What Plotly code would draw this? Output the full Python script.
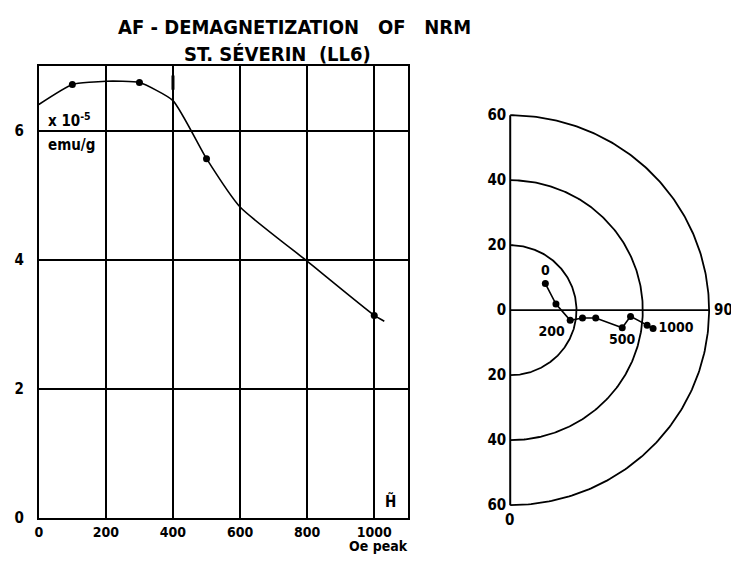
import numpy as np
import plotly.graph_objects as go

# ---- left panel: AF demagnetization curve ----
field_oe = [0, 100, 200, 300, 400, 500, 600, 800, 1000, 1030]
nrm_e5 = [6.41, 6.72, 6.77, 6.75, 6.47, 5.57, 4.82, 3.98, 3.14, 3.05]
marker_oe = [100, 300, 500, 1000]
marker_nrm = [6.72, 6.75, 5.57, 3.14]
tick_mark_oe = [400, 400]
tick_mark_nrm = [6.64, 6.86]
x_ticks = [0, 200, 400, 600, 800, 1000]
y_ticks = [0, 2, 4, 6]

# ---- right panel: direction diagram ----
ring_radii = [20, 40, 60]
path_x = [10.6, 13.8, 18.1, 21.8, 25.8, 33.8, 36.3, 41.3, 43.1]
path_y = [8.2, 1.9, -3.1, -2.4, -2.4, -5.4, -1.9, -4.6, -5.6]
path_labels = ["0", "", "200", "", "", "500", "", "", "1000"]
path_label_pos = ["top center", "middle right", "bottom left", "middle right",
                  "middle right", "bottom center", "middle right", "middle right",
                  "middle right"]
r_tickvals = [-60, -40, -20, 0, 20, 40, 60]
r_ticktext = ["60", "40", "20", "0", "20", "40", "60"]

W, H = 731, 563
FONT = "DejaVu Sans Condensed, DejaVu Sans"

def px_x(p):
    return p / W

def px_y(p):
    return (H - p) / H

fig = go.Figure()

fig.add_trace(go.Scatter(
    x=field_oe, y=nrm_e5, mode="lines",
    line=dict(color="black", width=1.6, shape="spline", smoothing=0.5),
    xaxis="x", yaxis="y", hoverinfo="skip"))
fig.add_trace(go.Scatter(
    x=marker_oe, y=marker_nrm, mode="markers",
    marker=dict(color="black", size=7), xaxis="x", yaxis="y"))
fig.add_trace(go.Scatter(
    x=tick_mark_oe, y=tick_mark_nrm, mode="lines",
    line=dict(color="black", width=3), xaxis="x", yaxis="y"))

# rings of the direction diagram
theta = np.radians(np.linspace(-90, 90, 241))
for r in ring_radii:
    fig.add_trace(go.Scatter(
        x=r * np.cos(theta), y=r * np.sin(theta), mode="lines",
        line=dict(color="black", width=1.8), xaxis="x2", yaxis="y2",
        hoverinfo="skip"))
R = ring_radii[-1]
fig.add_trace(go.Scatter(x=[0, R], y=[0, 0], mode="lines",
                         line=dict(color="black", width=1.8),
                         xaxis="x2", yaxis="y2"))
fig.add_trace(go.Scatter(x=[0, 0], y=[-R, R], mode="lines",
                         line=dict(color="black", width=2),
                         xaxis="x2", yaxis="y2"))
fig.add_trace(go.Scatter(
    x=path_x, y=path_y, mode="lines+markers+text",
    line=dict(color="black", width=1.6),
    marker=dict(color="black", size=7),
    text=path_labels, textposition=path_label_pos,
    textfont=dict(family=FONT, size=14, color="black", weight="bold"),
    xaxis="x2", yaxis="y2", cliponaxis=False))

axis_font = dict(family=FONT, size=15, color="black", weight="bold")
xtick_font = dict(family=FONT, size=14, color="black", weight="bold")

fig.update_layout(
    width=W, height=H, margin=dict(l=0, r=0, t=0, b=0),
    paper_bgcolor="white", plot_bgcolor="white", showlegend=False,
    xaxis=dict(domain=[px_x(35), px_x(406)], range=[0, 1100],
               tickvals=x_ticks, showgrid=True, gridcolor="black", gridwidth=2,
               showline=True, linecolor="black", linewidth=2, mirror=True,
               zeroline=False, ticks="", tickfont=xtick_font,
               ticklabelstandoff=0),
    yaxis=dict(domain=[px_y(526), px_y(63)], range=[0, 7],
               tickvals=y_ticks, showgrid=True, gridcolor="black", gridwidth=2,
               showline=True, linecolor="black", linewidth=2, mirror=True,
               zeroline=False, ticks="", tickfont=axis_font,
               ticklabelstandoff=10),
    xaxis2=dict(domain=[px_x(507), px_x(712.3)], range=[-0.6, 61],
                showgrid=False, zeroline=False, showline=False,
                showticklabels=False, anchor="y2"),
    yaxis2=dict(domain=[px_y(516.3), px_y(109.7)], range=[-61, 61],
                tickvals=r_tickvals, ticktext=r_ticktext,
                showgrid=False, zeroline=False, showline=False, ticks="",
                tickfont=axis_font, anchor="x2", ticklabelstandoff=1),
)

def paper_text(text, x, y, font, xanchor="center"):
    return dict(text=text, x=px_x(x), y=px_y(y), xref="paper", yref="paper",
                xanchor=xanchor, yanchor="middle", showarrow=False, font=font)

title_font = dict(family=FONT, size=20, color="black", weight="bold")
unit_font = dict(family=FONT, size=15, color="black", weight="bold")
small_font = dict(family=FONT, size=14, color="black", weight="bold")

ann = [
    paper_text("AF\u00a0-\u00a0DEMAGNETIZATION\u00a0\u00a0\u00a0OF\u00a0\u00a0\u00a0NRM", 292, 23, title_font),
    paper_text("ST.\u00a0SÉVERIN\u00a0\u00a0(LL6)", 275, 50, title_font),
    paper_text("x 10<sup>-5</sup>", 42, 118, unit_font, xanchor="left"),
    paper_text("emu/g", 42, 144, unit_font, xanchor="left"),
    paper_text("Oe\u00a0peak", 377, 555, small_font),
    paper_text("H\u0303", 389, 509, axis_font),
    paper_text("90", 712, 313, axis_font, xanchor="left"),
    paper_text("0", 508, 528, axis_font),
]
fig.update_layout(annotations=ann)

fig.write_html("out.html")
